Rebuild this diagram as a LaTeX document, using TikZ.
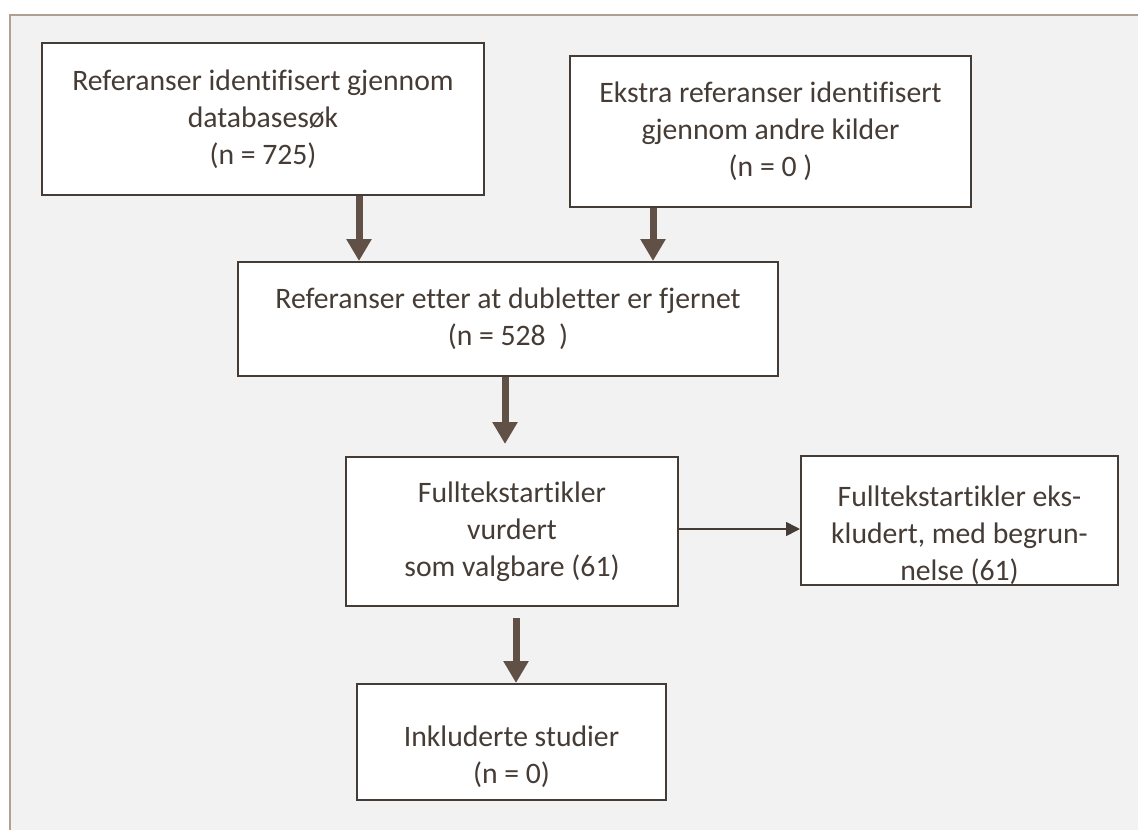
\documentclass[tikz,border=0pt]{standalone}
\usepackage{fontspec}
\setmainfont{Carlito}[Ligatures=NoCommon]
\usetikzlibrary{positioning,calc,arrows.meta}

\definecolor{bgc}{RGB}{242,242,242}
\definecolor{framec}{RGB}{176,160,148}
\definecolor{inkc}{RGB}{70,60,54}
\definecolor{arrc}{RGB}{96,80,70}

\begin{document}
\begin{tikzpicture}[
    x=1pt, y=-1pt,
    box/.style={draw=inkc, line width=2pt, fill=white, align=center, text=inkc, inner sep=0pt, font=\fontsize{29.7}{37}\selectfont},
    fat/.style={draw=arrc, line width=7pt, -{Triangle[length=22pt,width=24pt]}},
    thin/.style={draw=inkc, line width=1.6pt, -{Triangle[length=14pt,width=14pt]}}
]
\useasboundingbox (0,0) rectangle (1138,830);

% background panel
\fill[bgc] (9,14) rectangle (1142,834);
\draw[framec, line width=2pt] (10,834) -- (10,15) -- (1142,15);

% boxes
\node[box, minimum width=442pt, minimum height=152pt] (b1) at (263,119) {Referanser identifisert gjennom\\databasesøk\\(n = 725)};
\node[box, minimum width=401pt, minimum height=151pt] (b2) at (770.5,131.5) {Ekstra referanser identifisert\\gjennom andre kilder\\(n = 0 )};
\node[box, minimum width=540pt, minimum height=114pt] (b3) at (508,319) {Referanser etter at dubletter er fjernet\\(n = 528\ \ )};
\node[box, minimum width=332pt, minimum height=149pt] (b4) at (512,531.5) {Fulltekstartikler\\vurdert\\som valgbare (61)};
\node[box, minimum width=317pt, minimum height=115pt] (b5) at (959.5,520.5) {\rule{0pt}{50pt}Fulltekstartikler eks-\\kludert, med begrun-\\nelse (61)};
\node[box, minimum width=309pt, minimum height=116pt] (b6) at (511.5,742) {\rule{0pt}{50pt}Inkluderte studier\\(n = 0)};

% arrows
\draw[fat] ([xshift=96pt]b1.south) -- ([xshift=96pt]b1.south |- b3.north);
\draw[fat] ([xshift=-117.5pt]b2.south) -- ([xshift=-117.5pt]b2.south |- b3.north);
\draw[fat, shorten >=12pt] ([xshift=-3pt]b3.south) -- ([xshift=-3pt]b3.south |- b4.north);
\draw[fat, shorten <=11pt] ([xshift=4pt]b4.south) -- ([xshift=4pt]b4.south |- b6.north);
\draw[thin] ([yshift=2.5pt]b4.east) -- ([yshift=2.5pt]b4.east -| b5.west);

\end{tikzpicture}
\end{document}
